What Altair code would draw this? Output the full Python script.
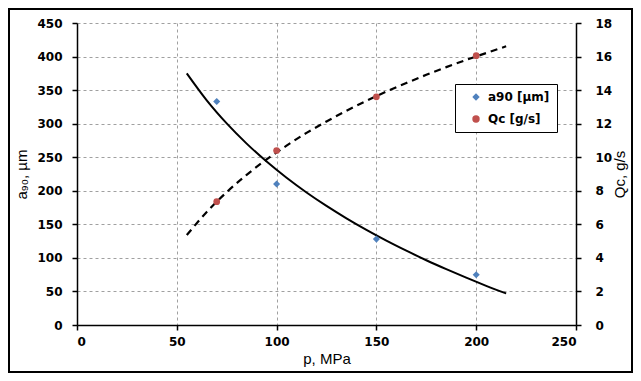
import altair as alt
import pandas as pd

# measured points
p_pts = [70, 100, 150, 200]
a90_pts = [333, 210, 128, 75]
qc_pts = [7.35, 10.4, 13.6, 16.05]

# trend curves
p_curve = [55, 65, 75, 85, 95, 105, 115, 125, 135, 145, 155, 165, 175, 185, 195, 205, 215]
a90_curve = [375, 334.8, 300.4, 270.3, 243.5, 219.4, 197.5, 177.5, 159.0, 141.8, 125.7,
             110.7, 96.5, 83.2, 70.5, 58.4, 47]
qc_curve = [5.36, 6.74, 7.92, 8.95, 9.87, 10.69, 11.45, 12.13, 12.77, 13.36, 13.91,
            14.42, 14.91, 15.37, 15.80, 16.21, 16.61]

series_names = ["a90 [µm]", "Qc [g/s]"]
series_colors = ["#4F81BD", "#C0504D"]
series_shapes = ["diamond", "circle"]

x_ticks = [0, 50, 100, 150, 200, 250]
left_ticks = [0, 50, 100, 150, 200, 250, 300, 350, 400, 450]
right_ticks = [0, 2, 4, 6, 8, 10, 12, 14, 16, 18]

df_pts_a = pd.DataFrame({"p": p_pts, "v": a90_pts, "series": series_names[0]})
df_pts_q = pd.DataFrame({"p": p_pts, "v": qc_pts, "series": series_names[1]})
df_curve = pd.DataFrame({"p": p_curve, "a": a90_curve, "q": qc_curve})

W, H = 499, 302

x_enc = alt.X("p:Q", scale=alt.Scale(domain=[0, 250], nice=False),
              axis=alt.Axis(values=x_ticks, title="p, MPa", grid=True))

color_enc = alt.Color("series:N",
                      scale=alt.Scale(domain=series_names, range=series_colors),
                      legend=alt.Legend(title=None, orient="none", legendX=378, legendY=61,
                                        strokeColor="black", fillColor="white", padding=7,
                                        rowPadding=10, symbolSize=55, symbolOffset=8,
                                        labelFontSize=12, labelFont="DejaVu Sans",
                                        labelFontWeight="bold", labelColor="black",
                                        symbolStrokeWidth=0, labelOffset=6))
shape_enc = alt.Shape("series:N", scale=alt.Scale(domain=series_names, range=series_shapes),
                      legend=None)

left_axis = alt.Axis(values=left_ticks, title="a₉₀, µm", orient="left", grid=True,
                     labelPadding=10, titlePadding=7)
right_axis = alt.Axis(values=right_ticks, title="Qc, g/s", orient="right", grid=False,
                      labelPadding=14, titlePadding=16, titleAngle=270)

line_a = alt.Chart(df_curve).mark_line(color="black", strokeWidth=2, interpolate="monotone").encode(
    x=x_enc,
    y=alt.Y("a:Q", scale=alt.Scale(domain=[0, 450], nice=False), axis=left_axis),
)
pts_a = alt.Chart(df_pts_a).mark_point(filled=True, size=50, opacity=1).encode(
    x=x_enc,
    y=alt.Y("v:Q", scale=alt.Scale(domain=[0, 450], nice=False), axis=left_axis),
    color=color_enc, shape=shape_enc,
)
line_q = alt.Chart(df_curve).mark_line(color="black", strokeWidth=2.2, strokeDash=[7, 5],
                                       interpolate="monotone").encode(
    x=x_enc,
    y=alt.Y("q:Q", scale=alt.Scale(domain=[0, 18], nice=False), axis=right_axis),
)
pts_q = alt.Chart(df_pts_q).mark_point(filled=True, size=45, opacity=1).encode(
    x=x_enc,
    y=alt.Y("v:Q", scale=alt.Scale(domain=[0, 18], nice=False), axis=right_axis),
    color=color_enc, shape=shape_enc,
)

frame = alt.Chart(pd.DataFrame({"k": [0]})).mark_rect(
    fillOpacity=0, stroke="black", strokeWidth=2).encode(
    x=alt.value(-68), x2=alt.value(555), y=alt.value(-14), y2=alt.value(349))

left = alt.layer(line_a, pts_a)
right = alt.layer(line_q, pts_q)

chart = alt.layer(left, right, frame).resolve_scale(y="independent").properties(
    width=W, height=H,
    autosize=alt.AutoSizeParams(type="none"),
    padding={"left": 69, "top": 15, "right": 57, "bottom": 48},
    background="white",
).configure_view(stroke=None).configure_axis(
    labelFont="DejaVu Sans", labelFontWeight="bold", labelFontSize=12, labelColor="black",
    titleFont="Liberation Sans", titleFontWeight="normal", titleFontSize=15, titleColor="black",
    domainColor="black", domainWidth=1.5, tickColor="black", tickWidth=1.5, tickSize=5,
    gridColor="#a0a0a0", gridDash=[3, 3], gridWidth=1,
).configure_axisX(titlePadding=4, labelPadding=6)

chart.save("out.html", embed_options={"renderer": "svg", "actions": False})
